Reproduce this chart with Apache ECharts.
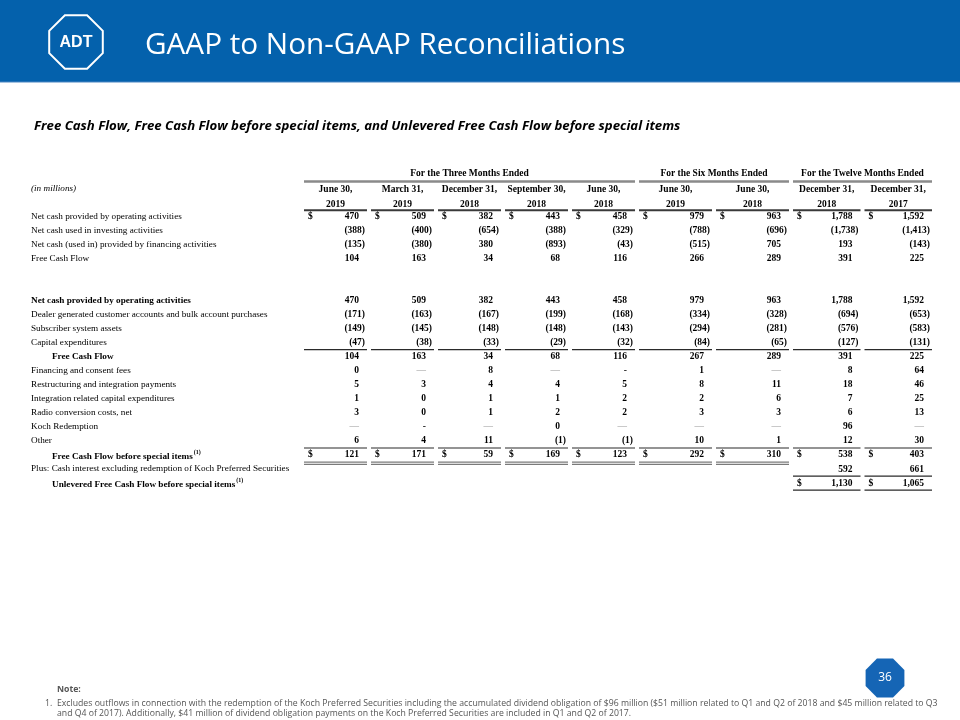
<!DOCTYPE html>
<html><head><meta charset="utf-8">
<script src="https://cdn.jsdelivr.net/npm/echarts@6/dist/echarts.min.js"></script>
<style>html,body{margin:0;padding:0;background:#fff}#c{width:960px;height:720px}</style>
</head><body><div id="c"></div>
<script>
// ---------------- data ----------------
const groupTitles = ['For the Three Months Ended', 'For the Six Months Ended', 'For the Twelve Months Ended'];
const colHead1 = ['June 30,', 'March 31,', 'December 31,', 'September 30,', 'June 30,', 'June 30,', 'June 30,', 'December 31,', 'December 31,'];
const colHead2 = ['2019', '2019', '2018', '2018', '2018', '2019', '2018', '2018', '2017'];

const rowKeys = ['grp', 'head1', 'head2', 'ncOp', 'ncInv', 'ncFin', 'fcfA', 'gap1', 'gap2',
  'ncOpB', 'dealer', 'subscriber', 'capex', 'fcfB', 'finFees', 'restr', 'integ', 'radio', 'koch', 'other',
  'fcfBsi', 'plus', 'unlev'];
const rowLabels = ['', '(in millions)', '',
  'Net cash provided by operating activities',
  'Net cash used in investing activities',
  'Net cash (used in) provided by financing activities',
  'Free Cash Flow', '', '',
  'Net cash provided by operating activities',
  'Dealer generated customer accounts and bulk account purchases',
  'Subscriber system assets',
  'Capital expenditures',
  'Free Cash Flow',
  'Financing and consent fees',
  'Restructuring and integration payments',
  'Integration related capital expenditures',
  'Radio conversion costs, net',
  'Koch Redemption',
  'Other',
  'Free Cash Flow before special items',
  'Plus: Cash interest excluding redemption of Koch Preferred Securities',
  'Unlevered Free Cash Flow before special items'];

const netCashOperating = [470, 509, 382, 443, 458, 979, 963, 1788, 1592];
const netCashInvesting = [-388, -400, -654, -388, -329, -788, -696, -1738, -1413];
const netCashFinancing = [-135, -380, 380, -893, -43, -515, 705, 193, -143];
const freeCashFlowA = [104, 163, 34, 68, 116, 266, 289, 391, 225];
const netCashOperatingB = [470, 509, 382, 443, 458, 979, 963, 1788, 1592];
const dealerAccounts = [-171, -163, -167, -199, -168, -334, -328, -694, -653];
const subscriberAssets = [-149, -145, -148, -148, -143, -294, -281, -576, -583];
const capitalExpenditures = [-47, -38, -33, -29, -32, -84, -65, -127, -131];
const freeCashFlowB = [104, 163, 34, 68, 116, 267, 289, 391, 225];
const financingFees = [0, '—', 8, '—', '-', 1, '—', 8, 64];
const restructuring = [5, 3, 4, 4, 5, 8, 11, 18, 46];
const integrationCapex = [1, 0, 1, 1, 2, 2, 6, 7, 25];
const radioConversion = [3, 0, 1, 2, 2, 3, 3, 6, 13];
const kochRedemption = ['—', '-', '—', 0, '—', '—', '—', 96, '—'];
const otherItems = [6, 4, 11, -1, -1, 10, 1, 12, 30];
const fcfBeforeSpecial = [121, 171, 59, 169, 123, 292, 310, 538, 403];
const cashInterest = [null, null, null, null, null, null, null, 592, 661];
const unleveredFcf = [null, null, null, null, null, null, null, 1130, 1065];

const rowValues = [null, null, null, netCashOperating, netCashInvesting, netCashFinancing, freeCashFlowA, null, null,
  netCashOperatingB, dealerAccounts, subscriberAssets, capitalExpenditures, freeCashFlowB, financingFees,
  restructuring, integrationCapex, radioConversion, kochRedemption, otherItems, fcfBeforeSpecial, cashInterest, unleveredFcf];

const noteTitle = 'Note:';
const noteLines = [
  'Excludes outflows in connection with the redemption of the Koch Preferred Securities including the accumulated dividend obligation of $96 million ($51 million related to Q1 and Q2 of 2018 and $45 million related to Q3',
  'and Q4 of 2017). Additionally, $41 million of dividend obligation payments on the Koch Preferred Securities are included in Q1 and Q2 of 2017.'
];

// ---------------- styles ----------------
const rowStyle = {
  head1: {italic: true},
  ncOp: {dollar: true},
  ncOpB: {bold: true},
  capex: {under: 1},
  fcfB: {bold: true, indent: true},
  other: {under: 1},
  fcfBsi: {bold: true, indent: true, sup: true, dollar: true, under: 2},
  unlev: {bold: true, indent: true, sup: true, dollar: true, under: 1},
  plus: {under: 1}
};
const SERIF = "'Liberation Serif','Times New Roman',serif";
const FS = 9.5;
const LFS = 9.2;
const groups = [{start: 0, n: 5}, {start: 5, n: 2}, {start: 7, n: 2}];

function fmt(v) {
  if (v === null || v === undefined) return '';
  if (typeof v === 'string') return v;
  const s = String(Math.abs(v)).replace(/\B(?=(\d{3})+(?!\d))/g, ',');
  return v < 0 ? '(' + s + ')' : s;
}

// ---------------- build ----------------
const chart = echarts.init(document.getElementById('c'), null, {renderer: 'canvas'});
const gridTop = 167, gridH = 23 * 14.05;
const grids = [
  {left: 31, top: gridTop, width: 265, height: gridH},
  {left: 302, top: gridTop, width: 335, height: gridH},
  {left: 637, top: gridTop, width: 154, height: gridH},
  {left: 791, top: gridTop, width: 143, height: gridH}
];
const xAxes = [
  {type: 'category', gridIndex: 0, data: ['label'], show: false},
  {type: 'category', gridIndex: 1, data: [0, 1, 2, 3, 4].map(i => colHead1[i] + ' ' + colHead2[i]), show: false},
  {type: 'category', gridIndex: 2, data: [5, 6].map(i => colHead1[i] + ' ' + colHead2[i]), show: false},
  {type: 'category', gridIndex: 3, data: [7, 8].map(i => colHead1[i] + ' ' + colHead2[i]), show: false}
];
const yAxes = [0, 1, 2, 3].map(g => ({type: 'category', gridIndex: g, data: rowKeys, inverse: true, show: false}));

const series = [];

// labels column
const labelData = [];
rowLabels.forEach((t, i) => { if (t) labelData.push([0, i]); });
series.push({
  type: 'custom', xAxisIndex: 0, yAxisIndex: 0, data: labelData, silent: true,
  renderItem(params, api) {
    const ri = api.value(1);
    const p = api.coord([0, ri]);
    const sz = api.size([1, 1]);
    const st = rowStyle[rowKeys[ri]] || {};
    const x = p[0] - sz[0] / 2 + (st.indent ? 21 : 0);
    const y = p[1] + (ri === 1 ? 1 : 0);
    const txt = st.sup ? '{m|' + rowLabels[ri] + '}{s|(1)}' : rowLabels[ri];
    return {
      type: 'text', x: x, y: y,
      style: {
        text: txt, fill: '#000', font: (st.italic ? 'italic ' : '') + (st.bold ? 'bold ' : '') + LFS + 'px ' + SERIF,
        align: 'left', verticalAlign: 'middle',
        rich: {
          m: {fontFamily: SERIF, fontSize: LFS, fontWeight: 'bold', fill: '#000', lineHeight: 12, verticalAlign: 'bottom'},
          s: {fontFamily: SERIF, fontSize: 6, fontWeight: 'bold', fill: '#000', lineHeight: 12, verticalAlign: 'top', padding: [0, 0, 0, 1]}
        }
      }
    };
  }
});

// data groups
groups.forEach((g, gi) => {
  const axisIdx = gi + 1;
  const cells = [];
  for (let c = 0; c < g.n; c++) {
    const gc = g.start + c;
    cells.push([c, 1, gc]);
    cells.push([c, 2, gc]);
    rowValues.forEach((vals, ri) => {
      if (vals && vals[gc] !== null && vals[gc] !== undefined) cells.push([c, ri, gc]);
    });
  }
  series.push({
    type: 'custom', xAxisIndex: axisIdx, yAxisIndex: axisIdx, data: cells, silent: true,
    renderItem(params, api) {
      const c = api.value(0), ri = api.value(1), gc = api.value(2);
      const p = api.coord([c, ri]);
      const sz = api.size([1, 1]);
      const L = p[0] - sz[0] / 2 + 2, R = p[0] + sz[0] / 2 - 2;
      const key = rowKeys[ri];
      const st = rowStyle[key] || {};
      const children = [];
      const boldFont = 'bold ' + FS + 'px ' + SERIF;
      if (ri === 1 || ri === 2) {
        const y = p[1] + (ri === 1 ? 1 : 2);
        children.push({type: 'text', x: p[0], y: y, style: {text: ri === 1 ? colHead1[gc] : colHead2[gc], font: boldFont, fill: '#000', align: 'center', verticalAlign: 'middle'}});
        if (ri === 2) children.push({type: 'line', shape: {x1: L, y1: p[1] + 8, x2: R, y2: p[1] + 8}, style: {stroke: '#3a3a3a', lineWidth: 2}});
        return {type: 'group', children: children};
      }
      const y = p[1];
      const v = rowValues[ri][gc];
      const t = fmt(v);
      const isDash = (v === '—' || v === '-');
      const neg = typeof v === 'number' && v < 0;
      children.push({type: 'text', x: neg ? R - 2 : R - 8, y: y, style: {text: t, font: (isDash ? '' : 'bold ') + FS + 'px ' + SERIF, fill: v === '—' ? '#9a9a9a' : '#000', align: 'right', verticalAlign: 'middle'}});
      if (st.dollar) children.push({type: 'text', x: L + 4, y: y, style: {text: '$', font: boldFont, fill: '#000', align: 'left', verticalAlign: 'middle'}});
      if (st.under === 1) children.push({type: 'line', shape: {x1: L, y1: y + 7, x2: R, y2: y + 7}, style: {stroke: '#2a2a2a', lineWidth: 1.2}});
      if (st.under === 2 && gc < 7) {
        children.push({type: 'line', shape: {x1: L, y1: y + 7, x2: R, y2: y + 7}, style: {stroke: '#7a7a7a', lineWidth: 1.3}});
        children.push({type: 'line', shape: {x1: L, y1: y + 9.3, x2: R, y2: y + 9.3}, style: {stroke: '#7a7a7a', lineWidth: 1.3}});
      }
      return {type: 'group', children: children};
    }
  });
  // group title
  series.push({
    type: 'custom', xAxisIndex: axisIdx, yAxisIndex: axisIdx, data: [[0, 0, gi]], silent: true,
    renderItem(params, api) {
      const p0 = api.coord([0, 0]);
      const p1 = api.coord([g.n - 1, 0]);
      const sz = api.size([1, 1]);
      const L = p0[0] - sz[0] / 2 + 2, R = p1[0] + sz[0] / 2 - 2;
      return {type: 'group', children: [
        {type: 'text', x: (L + R) / 2, y: p0[1], style: {text: groupTitles[api.value(2)], font: 'bold ' + FS + 'px ' + SERIF, fill: '#000', align: 'center', verticalAlign: 'middle'}},
        {type: 'line', shape: {x1: L, y1: p0[1] + 7.5, x2: R, y2: p0[1] + 7.5}, style: {stroke: '#8a8a8a', lineWidth: 2.6}}
      ]};
    }
  });
});

function octagon(cx, cy, rx, ry) {
  const pts = [];
  for (let k = 0; k < 8; k++) {
    const a = (22.5 + 45 * k) * Math.PI / 180;
    pts.push([cx + rx * Math.cos(a), cy + ry * Math.sin(a)]);
  }
  return pts;
}

const option = {
  animation: false,
  backgroundColor: '#fff',
  title: [{
    text: 'GAAP to Non-GAAP Reconciliations', left: 140, top: 26,
    textStyle: {color: '#fff', fontSize: 29.7, fontWeight: 'normal', fontFamily: "'Open Sans','Noto Sans',sans-serif"}
  }, {
    text: 'Free Cash Flow, Free Cash Flow before special items, and Unlevered Free Cash Flow before special items', left: 29, top: 115,
    textStyle: {color: '#000', fontSize: 13.2, fontWeight: 'bold', fontStyle: 'italic', fontFamily: "'Open Sans','Noto Sans',sans-serif"}
  }],
  graphic: [
    {type: 'rect', z: -10, shape: {x: 0, y: 0, width: 960, height: 82}, style: {fill: '#0461AC'}},
    {type: 'line', z: -9, shape: {x1: 0, y1: 82, x2: 960, y2: 82}, style: {stroke: '#4a86c2', lineWidth: 1}},
    {type: 'polygon', shape: {points: octagon(76, 42, 29, 29)}, style: {fill: '#0461AC', stroke: '#fff', lineWidth: 2}},
    {type: 'text', x: 76, y: 43, style: {text: 'ADT', fill: '#fff', font: "bold 16px 'Liberation Sans',sans-serif", align: 'center', verticalAlign: 'middle'}},
    {type: 'polygon', shape: {points: octagon(885, 678, 21, 21)}, style: {fill: '#1565B5'}},
    {type: 'text', x: 885, y: 678, style: {text: '36', fill: '#fff', font: "12px 'Open Sans',sans-serif", align: 'center', verticalAlign: 'middle'}},
    {type: 'text', x: 57, y: 690, style: {text: noteTitle, fill: '#555', font: "bold 8.7px 'Open Sans',sans-serif", verticalAlign: 'middle'}},
    {type: 'text', x: 45, y: 704, style: {text: '1.', fill: '#555', font: "8.7px 'Open Sans',sans-serif", verticalAlign: 'middle'}},
    {type: 'text', x: 57, y: 704, style: {text: noteLines[0], fill: '#555', font: "8.7px 'Open Sans',sans-serif", verticalAlign: 'middle'}},
    {type: 'text', x: 57, y: 714, style: {text: noteLines[1], fill: '#555', font: "8.7px 'Open Sans',sans-serif", verticalAlign: 'middle'}}
  ],
  grid: grids,
  xAxis: xAxes,
  yAxis: yAxes,
  series: series
};
chart.setOption(option);
</script>
</body></html>
